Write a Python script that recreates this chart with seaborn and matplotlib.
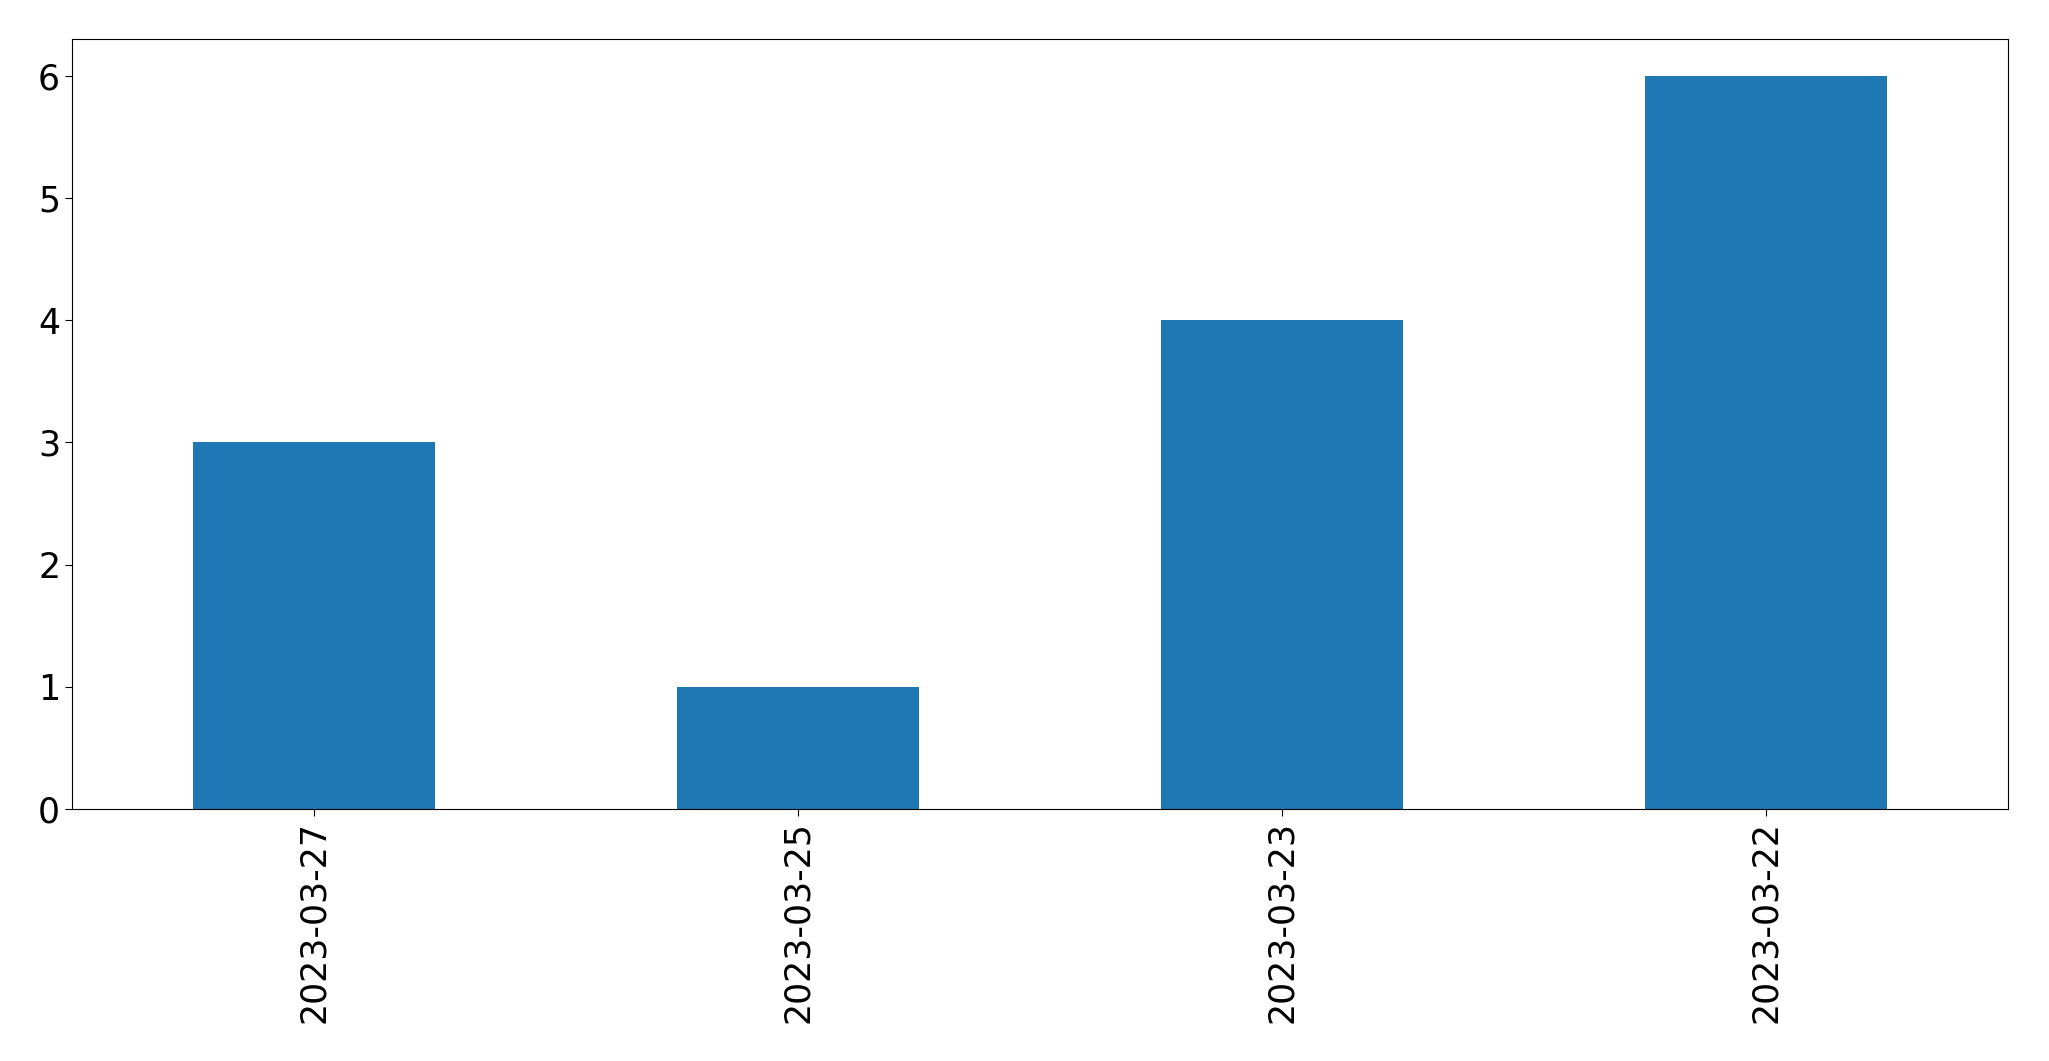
import matplotlib
matplotlib.use("Agg")
import matplotlib.pyplot as plt
import seaborn as sns
import pandas as pd

dates = ["2023-03-27", "2023-03-25", "2023-03-23", "2023-03-22"]
counts = [3, 1, 4, 6]

df = pd.DataFrame({"date": dates, "count": counts})

fig = plt.figure(figsize=(20.49, 10.61), dpi=100)
ax = fig.add_axes([72/2049, 1 - 809/1061, (2008-72)/2049, (809-39)/1061])
sns.barplot(data=df, x="date", y="count", order=dates, color="#1f77b4",
            saturation=1, width=0.5, ax=ax)
ax.set_xlim(-0.5, 3.5)
ax.set_ylim(0, 6.3)
ax.set_xlabel("")
ax.set_ylabel("")
ax.tick_params(axis="both", labelsize=25, length=5)
plt.setp(ax.get_xticklabels(), rotation=90)
fig.savefig("out.png", dpi=100)
